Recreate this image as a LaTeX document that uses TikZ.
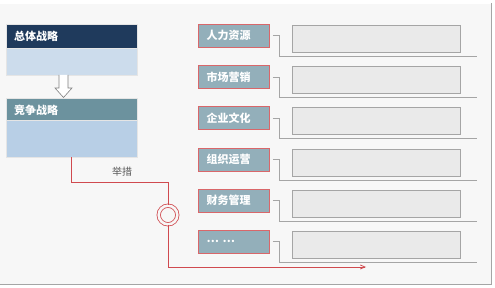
\documentclass[tikz,border=0pt]{standalone}
\usepackage{fontspec}
\setmainfont{Noto Sans CJK SC}
\usepackage{tikz}
\usetikzlibrary{arrows}
\usetikzlibrary{positioning}
\definecolor{bgpanel}{HTML}{F7F7F7}
\definecolor{navy}{HTML}{1F3A5C}
\definecolor{paleA}{HTML}{CCDCEC}
\definecolor{teal}{HTML}{6C929E}
\definecolor{paleB}{HTML}{B8CFE6}
\definecolor{labfill}{HTML}{93AFBA}
\definecolor{labred}{HTML}{D9676A}
\definecolor{boxfill}{HTML}{EAEAEA}
\definecolor{boxline}{HTML}{A5A5A5}
\definecolor{redline}{HTML}{D04A4F}
\tikzstyle{head}=[rectangle,draw=white!80!gray,line width=0.4pt,anchor=north west,text width=115pt,inner xsep=8pt,inner ysep=0pt,minimum height=24pt,align=left,text=white,font=\fontsize{11}{13}\selectfont\bfseries]
\tikzstyle{body}=[rectangle,draw=white!80!gray,line width=0.4pt,anchor=north west,minimum width=131pt,inner sep=0pt]
\tikzstyle{lab}=[rectangle,draw=labred,fill=labfill,line width=0.9pt,text width=55pt,inner xsep=8pt,inner ysep=0pt,minimum height=23pt,align=left,text=white,font=\fontsize{11}{13}\selectfont\bfseries]
\tikzstyle{box}=[rectangle,draw=boxline,fill=boxfill,line width=0.9pt,minimum width=168pt,minimum height=27pt,inner sep=0pt]
\tikzstyle{conn}=[draw=boxline,line width=0.8pt]
\tikzstyle{arr}=[->,>=angle 45,draw=redline,line width=0.8pt]

\begin{document}
\begin{tikzpicture}[x=1pt,y=-1pt]
    \useasboundingbox (0,0) rectangle (495,288);
    \fill[bgpanel] (0,4) rectangle (491,284);
    \draw[boxline,line width=1pt] (491,3) -- (491,284) -- (0,284);
    \node[head,fill=navy] (ZT) at (6,24) {总体战略};
    \node[body,fill=paleA,minimum height=27pt] (ZTb) at (6,48) {};
    \node[head,fill=teal] (JZ) at (6,98) {竞争战略};
    \node[body,fill=paleB,minimum height=37pt] (JZb) at (6,120) {};
    \draw[draw=gray,fill=white,line width=0.6pt] (59,75) -- (59,88) -- (55,88) -- (63.5,97.5) -- (72,88) -- (68,88) -- (68,75);
    \node[text=black!65,font=\fontsize{10}{12}\selectfont] (JC) at (122,172) {举措};
    \node[circle,draw=redline,double=bgpanel,line width=0.8pt,double distance=2.6pt,minimum size=18.6pt,inner sep=0pt] (C) at (168,215) {};
    \coordinate (T) at (168,182);
    \coordinate (E) at (366,267);
    \draw[draw=redline,line width=0.8pt] (JZb.south) |- (T) -- (C.north);
    \draw[arr] (C.south) |- (E);
    \node[lab] (R1) at (234,35.5) {人力资源};
    \node[box] (B1) at (376,38.5) {};
    \coordinate (E1) at (477,56);
    \draw[conn] ([xshift=3pt]R1.east) -- ++(6,0) |- (E1);
    \node[lab] (R2) at (234,77) {市场营销};
    \node[box] (B2) at (376,80) {};
    \coordinate (E2) at (477,97.5);
    \draw[conn] ([xshift=3pt]R2.east) -- ++(6,0) |- (E2);
    \node[lab] (R3) at (234,118) {企业文化};
    \node[box] (B3) at (376,121) {};
    \coordinate (E3) at (477,138.5);
    \draw[conn] ([xshift=3pt]R3.east) -- ++(6,0) |- (E3);
    \node[lab] (R4) at (234,159.5) {组织运营};
    \node[box] (B4) at (376,162.5) {};
    \coordinate (E4) at (477,180);
    \draw[conn] ([xshift=3pt]R4.east) -- ++(6,0) |- (E4);
    \node[lab] (R5) at (234,200.5) {财务管理};
    \node[box] (B5) at (376,203.5) {};
    \coordinate (E5) at (477,221);
    \draw[conn] ([xshift=3pt]R5.east) -- ++(6,0) |- (E5);
    \node[lab] (R6) at (234,241.5) {\ldots\ \ldots};
    \node[box] (B6) at (376,244.5) {};
    \coordinate (E6) at (477,262);
    \draw[conn] ([xshift=3pt]R6.east) -- ++(6,0) |- (E6);
\end{tikzpicture}
\end{document}
